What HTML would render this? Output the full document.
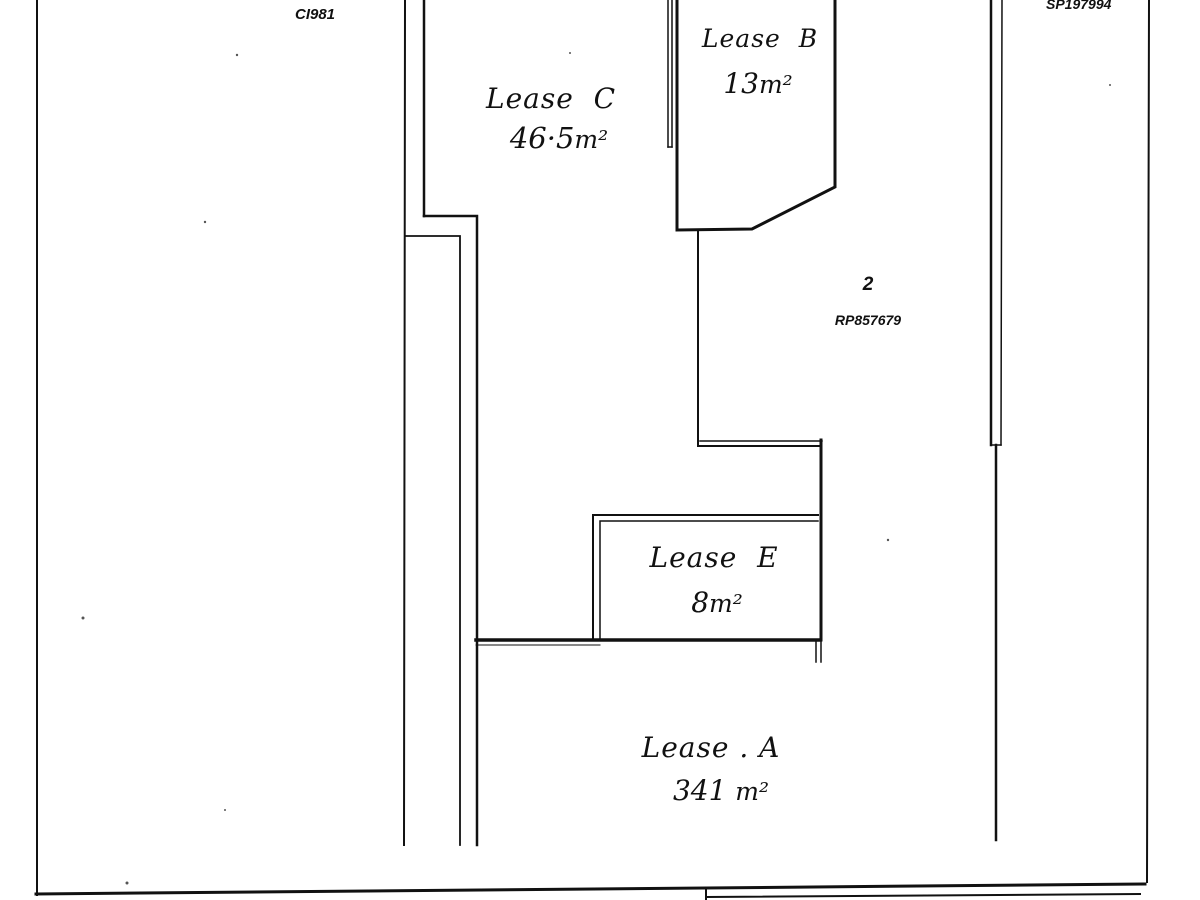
<!DOCTYPE html>
<html><head><meta charset="utf-8"><style>
html,body{margin:0;padding:0;background:#fff;}
svg{display:block;}
.l{font-family:"DejaVu Serif","Liberation Serif",serif;font-style:italic;fill:#111;}
.s{font-family:"Liberation Sans",sans-serif;font-style:italic;font-weight:bold;fill:#111;}
</style></head><body>
<svg width="1200" height="900" viewBox="0 0 1200 900" xmlns="http://www.w3.org/2000/svg">
<g stroke="#111" fill="none" stroke-linecap="square">
<line x1="37" y1="0" x2="37" y2="895" stroke-width="2"/>
<line x1="1149" y1="0" x2="1147" y2="882" stroke-width="2"/>
<line x1="36" y1="894" x2="1145" y2="884" stroke-width="3"/>
<line x1="706" y1="888" x2="706" y2="900" stroke-width="2"/>
<line x1="706" y1="897" x2="1140" y2="894" stroke-width="2"/>
<line x1="405" y1="0" x2="404" y2="845" stroke-width="2"/>
<line x1="424" y1="0" x2="424" y2="216" stroke-width="2.5"/>
<polyline points="424,216 477,216 477,845" stroke-width="2.5"/>
<polyline points="406,236 460,236 460,845" stroke-width="1.8"/>
<line x1="668" y1="0" x2="668" y2="147" stroke-width="1.5"/>
<line x1="672" y1="0" x2="672" y2="147" stroke-width="1.5"/>
<line x1="668" y1="147" x2="672" y2="147" stroke-width="1.5"/>
<polyline points="677,0 677,230 752,229 835,187 835,0" stroke-width="3"/>
<polyline points="698,230 698,446 820,446" stroke-width="2"/>
<line x1="700" y1="441" x2="822" y2="441" stroke-width="1.5"/>
<line x1="821" y1="440" x2="821" y2="640" stroke-width="3"/>
<line x1="816" y1="640" x2="816" y2="662" stroke-width="1.5"/>
<line x1="821" y1="640" x2="821" y2="662" stroke-width="1.5"/>
<polyline points="593,638 593,515 818,515" stroke-width="2"/>
<polyline points="600,638 600,521 818,521" stroke-width="1.5"/>
<line x1="476" y1="640" x2="820" y2="640" stroke-width="3.5"/>
<line x1="476" y1="645" x2="600" y2="645" stroke-width="1"/>
<line x1="991" y1="0" x2="991" y2="445" stroke-width="2.5"/>
<line x1="1002" y1="0" x2="1001" y2="445" stroke-width="1.5"/>
<line x1="991" y1="445" x2="1001" y2="445" stroke-width="1.5"/>
<line x1="996" y1="445" x2="996" y2="840" stroke-width="2.5"/>
</g>
<g fill="#555">
<circle cx="237" cy="55" r="1.2"/><circle cx="205" cy="222" r="1.2"/><circle cx="83" cy="618" r="1.5"/>
<circle cx="127" cy="883" r="1.5"/><circle cx="888" cy="540" r="1.2"/><circle cx="1110" cy="85" r="1"/>
<circle cx="225" cy="810" r="1"/><circle cx="570" cy="53" r="1"/>
</g>
<text class="s" x="295" y="19" font-size="15">CI981</text>
<text class="s" x="1046" y="9" font-size="14">SP197994</text>
<text class="l" x="551" y="108" font-size="28" text-anchor="middle" letter-spacing="1">Lease&#160; C</text>
<text class="l" x="559" y="148" font-size="29" text-anchor="middle">46·5<tspan font-size="25">m²</tspan></text>
<text class="l" x="760" y="47" font-size="25" text-anchor="middle" letter-spacing="1">Lease&#160; B</text>
<text class="l" x="758" y="93" font-size="28" text-anchor="middle">13<tspan font-size="25">m²</tspan></text>
<text class="s" x="868" y="290" font-size="19" text-anchor="middle" font-weight="normal">2</text>
<text class="s" x="868" y="325" font-size="14" text-anchor="middle">RP857679</text>
<text class="l" x="714" y="567" font-size="28" text-anchor="middle" letter-spacing="1">Lease&#160; E</text>
<text class="l" x="717" y="612" font-size="28" text-anchor="middle">8<tspan font-size="25">m²</tspan></text>
<text class="l" x="711" y="757" font-size="28" text-anchor="middle" letter-spacing="1">Lease . A</text>
<text class="l" x="721" y="800" font-size="28" text-anchor="middle">341 <tspan font-size="25">m²</tspan></text>
</svg>
</body></html>
